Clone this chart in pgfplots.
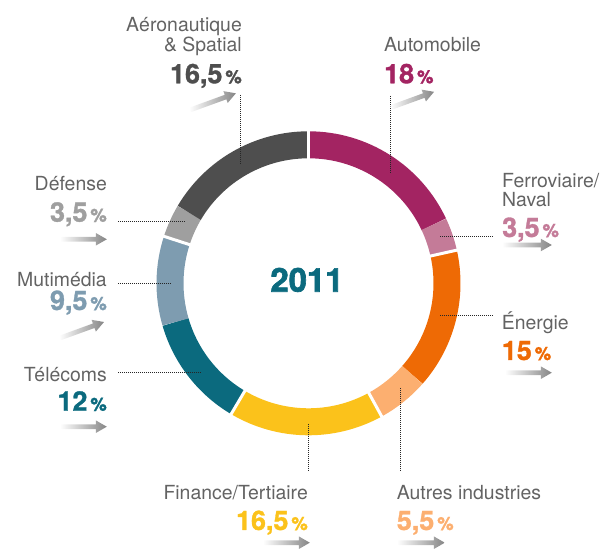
\documentclass[border=0pt]{standalone}
\usepackage{fontspec}
\setmainfont{TeX Gyre Heros}
\newfontfamily\heavyfont{TeX Gyre Heros}[BoldFeatures={FakeBold=1.2}]
\newfontfamily\blackfont{TeX Gyre Heros}[BoldFeatures={FakeBold=2}]
\usepackage{pgfplots}
\usepackage{pgfplotstable}
\pgfplotsset{compat=1.18}

\definecolor{cAuto}{HTML}{A32462}
\definecolor{cFerro}{HTML}{C47B98}
\definecolor{cEnergie}{HTML}{EE6A05}
\definecolor{cAutres}{HTML}{FCAF70}
\definecolor{cFinance}{HTML}{FBC21B}
\definecolor{cTelecom}{HTML}{0B6A7E}
\definecolor{cMulti}{HTML}{7E9CB0}
\definecolor{cDefense}{HTML}{9F9F9F}
\definecolor{cAero}{HTML}{4E4E4E}
\definecolor{cName}{HTML}{636363}
\definecolor{arrowgray}{HTML}{858585}

% share in %, clockwise from 12 o'clock; gap = white cut before the sector
\pgfplotstableread[col sep=comma]{
sector,share,col,gap
Automobile,18,cAuto,1
Ferroviaire/Naval,3.5,cFerro,0
Energie,15,cEnergie,1
Autres industries,5.5,cAutres,0
Finance/Tertiaire,16.5,cFinance,1
Telecoms,12,cTelecom,1
Mutimedia,9.5,cMulti,0
Defense,3.5,cDefense,1
Aeronautique & Spatial,16.5,cAero,0
}\sectors

\def\cx{308.5}
\def\cy{265.7}
\def\rmid{138.5}

\newcommand\namefont{\fontsize{19.5}{20}\selectfont}
\newcommand\pct[2]{\textcolor{#1}{\heavyfont\bfseries{\fontsize{27}{27}\selectfont #2}\hspace{3pt}{\fontsize{18.5}{19}\selectfont\%}}}
\newcommand\grarrow[4]{% x, y, angle, length
  \begin{scope}[shift={(axis cs:#1,#2)},rotate=#3]
    \shade[left color=white,right color=arrowgray]
      (0pt,-2.4pt) -- ({(#4-11)*1pt},-2.4pt) -- ({(#4-11)*1pt},-6.3pt) -- (#4pt,0pt)
      -- ({(#4-11)*1pt},6.3pt) -- ({(#4-11)*1pt},2.4pt) -- (0pt,2.4pt) -- cycle;
  \end{scope}}

\tikzset{leader/.style={draw=black!85,line width=0.9pt,dash pattern=on 0.9pt off 1.1pt}}

\begin{document}
\begin{tikzpicture}[every node/.style={inner sep=0pt}]
\begin{axis}[
    x=1bp, y=1bp,
    xmin=0, xmax=606, ymin=0, ymax=549,
    hide axis, clip=false, disabledatascaling,
]
\path (axis cs:0,0) rectangle (axis cs:606,549);
% donut ring
\def\cum{0}
\pgfplotsforeachungrouped \i in {0,...,8}{%
  \pgfplotstablegetelem{\i}{share}\of\sectors \let\val\pgfplotsretval
  \pgfplotstablegetelem{\i}{col}\of\sectors \let\col\pgfplotsretval
  \pgfmathsetmacro\sa{90-3.6*\cum}
  \pgfmathsetmacro\ea{90-3.6*(\cum+\val)}
  \pgfmathsetmacro\sx{\cx+\rmid*cos(\sa)}
  \pgfmathsetmacro\sy{\cy+\rmid*sin(\sa)}
  \pgfmathsetmacro\cum{\cum+\val}
  \edef\temp{\noexpand\draw[\col,line width=27bp] (axis cs:\sx,\sy) arc[start angle=\sa,end angle=\ea,radius=\rmid bp];}%
  \temp
}
% white cuts
\def\cum{0}
\pgfplotsforeachungrouped \i in {0,...,8}{%
  \pgfplotstablegetelem{\i}{share}\of\sectors \let\val\pgfplotsretval
  \pgfplotstablegetelem{\i}{gap}\of\sectors \let\gap\pgfplotsretval
  \pgfmathsetmacro\sa{90-3.6*\cum}
  \pgfmathsetmacro\ax{\cx+121*cos(\sa)}
  \pgfmathsetmacro\ay{\cy+121*sin(\sa)}
  \pgfmathsetmacro\bx{\cx+156*cos(\sa)}
  \pgfmathsetmacro\by{\cy+156*sin(\sa)}
  \pgfmathsetmacro\cum{\cum+\val}
  \ifnum\gap=1\relax
    \edef\temp{\noexpand\draw[white,line width=3bp] (axis cs:\ax,\ay) -- (axis cs:\bx,\by);}%
    \temp
  \fi
}

\node[anchor=base,text=cTelecom,font=\blackfont\bfseries\fontsize{33}{33}\selectfont] at (axis cs:307,257.3) {2011};

% leader lines
\draw[leader] (axis cs:240.5,454) -- (axis cs:240.5,386);
\draw[leader] (axis cs:390,453) -- (axis cs:390,377);
\draw[leader] (axis cs:440,312.3) -- (axis cs:492,312.3);
\draw[leader] (axis cs:440,234) -- (axis cs:493,234);
\draw[leader] (axis cs:400,161) -- (axis cs:400,78.3);
\draw[leader] (axis cs:308,125) -- (axis cs:308,79);
\draw[leader] (axis cs:118,176.3) -- (axis cs:200,176.3);
\draw[leader] (axis cs:118,265.7) -- (axis cs:170,265.7);
\draw[leader] (axis cs:118,328) -- (axis cs:185,328);

% labels
\node[anchor=base east,text=cName,font=\namefont] at (axis cs:242,517.3) {Aéronautique};
\node[anchor=base east,text=cName,font=\namefont] at (axis cs:242,497.3) {\& Spatial};
\node[anchor=base east] at (axis cs:242,465.7) {\pct{cAero}{16,5}};
\grarrow{190}{439}{20}{49}

\node[anchor=base west,text=cName,font=\namefont] at (axis cs:384,497.3) {Automobile};
\node[anchor=base west] at (axis cs:384,465.7) {\pct{cAuto}{18}};
\grarrow{391}{441.5}{20}{46}

\node[anchor=base west,text=cName,font=\namefont] at (axis cs:502,361.7) {Ferroviaire/};
\node[anchor=base west,text=cName,font=\namefont] at (axis cs:502,342.3) {Naval};
\node[anchor=base west] at (axis cs:502,312) {\pct{cFerro}{3,5}};
\grarrow{502}{304}{0}{50}

\node[anchor=base west,text=cName,font=\namefont] at (axis cs:501.7,219) {Énergie};
\node[anchor=base west] at (axis cs:501.7,189) {\pct{cEnergie}{15}};
\grarrow{505}{176.3}{0}{47}

\node[anchor=base west,text=cName,font=\namefont] at (axis cs:396.7,49) {Autres industries};
\node[anchor=base west] at (axis cs:396.7,19) {\pct{cAutres}{5,5}};
\grarrow{397}{6.3}{0}{48}

\node[anchor=base east,text=cName,font=\namefont] at (axis cs:308,49) {Finance/Tertiaire};
\node[anchor=base east] at (axis cs:308,19) {\pct{cFinance}{16,5}};
\grarrow{263}{6.3}{0}{47}

\node[anchor=base east,text=cName,font=\namefont] at (axis cs:107,167.3) {Télécoms};
\node[anchor=base east] at (axis cs:107,138.3) {\pct{cTelecom}{12}};
\grarrow{60}{122.3}{0}{47}

\node[anchor=base east,text=cName,font=\namefont] at (axis cs:107,262.3) {Mutimédia};
\node[anchor=base east] at (axis cs:107,239) {\pct{cMulti}{9,5}};
\grarrow{60}{211}{20}{47}

\node[anchor=base east,text=cName,font=\namefont] at (axis cs:107,358.3) {Défense};
\node[anchor=base east] at (axis cs:107,327.3) {\pct{cDefense}{3,5}};
\grarrow{60}{309.7}{0}{47}
\end{axis}
\end{tikzpicture}
\end{document}
